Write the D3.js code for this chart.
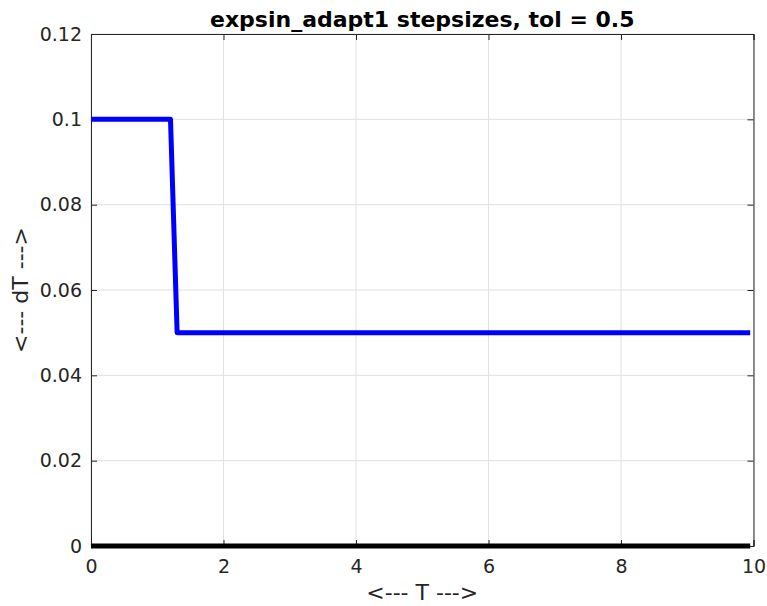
<!DOCTYPE html>
<html><head><meta charset="utf-8">
<script src="https://cdn.jsdelivr.net/npm/d3@7"></script>
<style>body{margin:0;background:#fff}svg{display:block}text{font-family:"DejaVu Sans",sans-serif}</style>
</head><body>
<script>
const T = [0, 1.2, 1.3, 9.95];
const dT = [0.1, 0.1, 0.05, 0.05];
const zeroT = [0, 9.95];
const zeroDT = [0, 0];
const xTicks = [0, 2, 4, 6, 8, 10];
const yTicks = [0, 0.02, 0.04, 0.06, 0.08, 0.1, 0.12];
const yTickLabels = ["0", "0.02", "0.04", "0.06", "0.08", "0.1", "0.12"];
const titleText = "expsin_adapt1 stepsizes, tol = 0.5";
const xLabel = "<--- T --->";
const yLabel = "<--- dT --->";

const W = 767, H = 606;
const m = {l: 91, r: 13.5, t: 34, b: 60};
const svg = d3.select("body").append("svg").attr("width", W).attr("height", H);
const x = d3.scaleLinear().domain([0, 10]).range([m.l, W - m.r]);
const y = d3.scaleLinear().domain([0, 0.12]).range([H - m.b, m.t]);

// grid
svg.append("g").selectAll("line").data(xTicks).join("line")
  .attr("x1", d => x(d)).attr("x2", d => x(d)).attr("y1", y(0)).attr("y2", y(0.12))
  .attr("stroke", "#e0e0e0").attr("stroke-width", 1);
svg.append("g").selectAll("line").data(yTicks).join("line")
  .attr("x1", x(0)).attr("x2", x(10)).attr("y1", d => y(d)).attr("y2", d => y(d))
  .attr("stroke", "#e0e0e0").attr("stroke-width", 1);

// axes
const fmt = (d) => yTickLabels[yTicks.indexOf(d)];
const gx = svg.append("g").attr("transform", `translate(0,${y(0)})`)
  .call(d3.axisBottom(x).tickValues(xTicks).tickSize(-6).tickPadding(14).tickFormat(d3.format("d")));
const gxt = svg.append("g").attr("transform", `translate(0,${y(0.12)})`)
  .call(d3.axisTop(x).tickValues(xTicks).tickSize(-6).tickFormat(""));
const gy = svg.append("g").attr("transform", `translate(${x(0)},0)`)
  .call(d3.axisLeft(y).tickValues(yTicks).tickSize(-6).tickPadding(9).tickFormat(fmt));
const gyr = svg.append("g").attr("transform", `translate(${x(10)},0)`)
  .call(d3.axisRight(y).tickValues(yTicks).tickSize(-6).tickFormat(""));
[gx, gxt, gy, gyr].forEach(g => {
  g.select(".domain").attr("stroke", "#262626").attr("stroke-width", 1);
  g.selectAll(".tick line").attr("stroke", "#262626");
  g.selectAll("text").attr("fill", "#262626").style("font-size", "19px").style("font-family", "'DejaVu Sans'");
});

// lines
const line = d3.line().x(d => x(d[0])).y(d => y(d[1]));
svg.append("path").datum(zeroT.map((t, i) => [t, zeroDT[i]]))
  .attr("d", line).attr("fill", "none").attr("stroke", "#000").attr("stroke-width", 5);
svg.append("path").datum(T.map((t, i) => [t, dT[i]]))
  .attr("d", line).attr("fill", "none").attr("stroke", "#0000ff").attr("stroke-width", 5)
  .attr("stroke-linejoin", "round");

// labels
svg.append("text").attr("x", (x(0) + x(10)) / 2).attr("y", 27).attr("text-anchor", "middle")
  .style("font-size", "22px").style("font-weight", "bold").attr("fill", "#000").text(titleText);
svg.append("text").attr("x", (x(0) + x(10)) / 2).attr("y", 600).attr("text-anchor", "middle")
  .style("font-size", "22px").attr("fill", "#262626").text(xLabel);
svg.append("text").attr("transform", `translate(28,${(y(0) + y(0.12)) / 2}) rotate(-90)`)
  .attr("text-anchor", "middle").style("font-size", "22px").attr("fill", "#262626").text(yLabel);
</script>
</body></html>
